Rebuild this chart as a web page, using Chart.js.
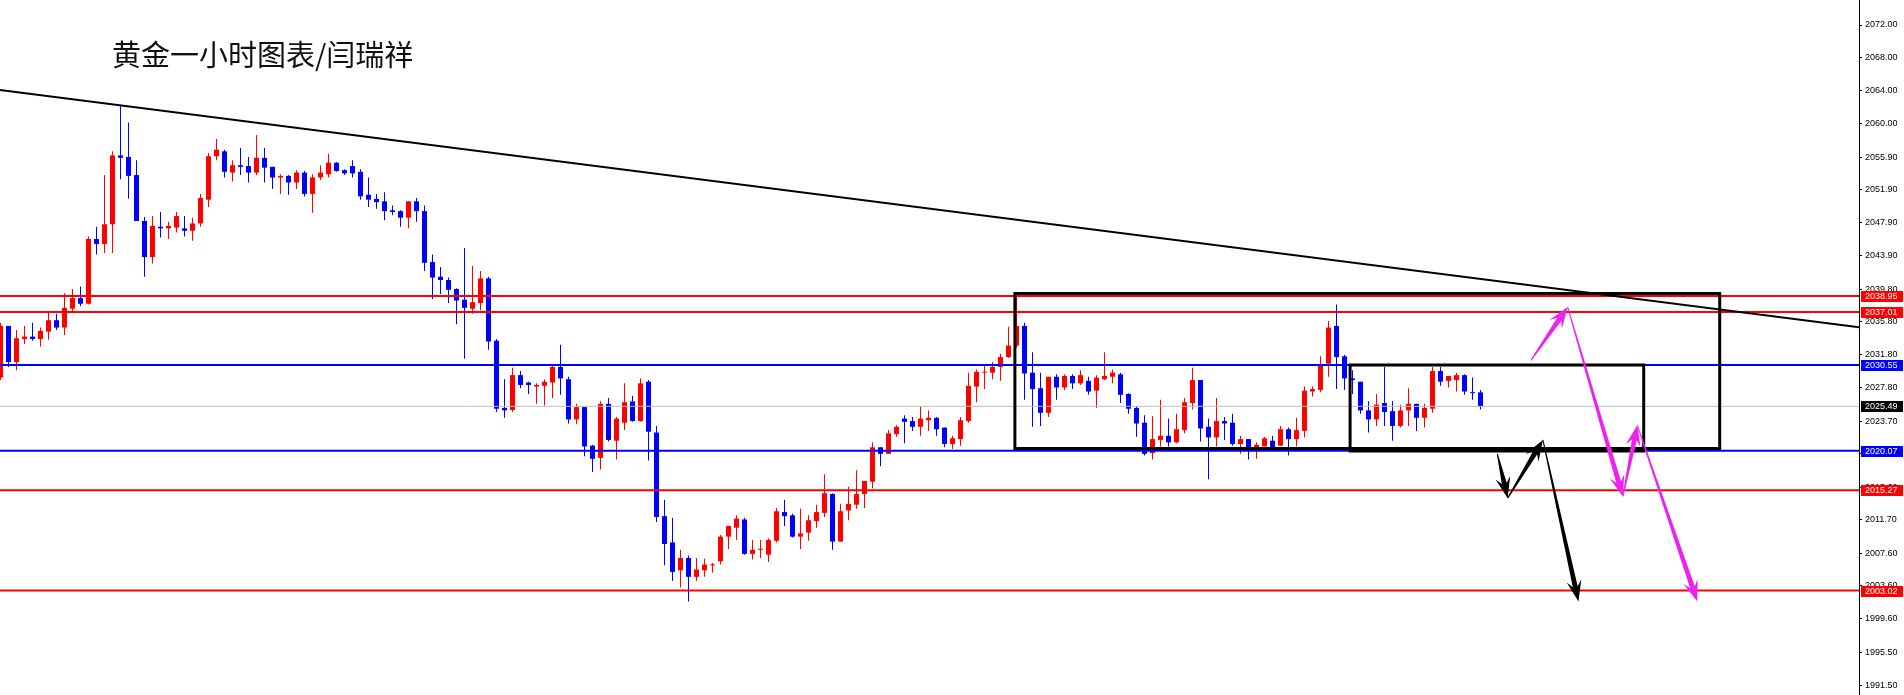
<!DOCTYPE html>
<html>
<head>
<meta charset="utf-8">
<script src="https://cdn.jsdelivr.net/npm/chart.js@4.4.0/dist/chart.umd.min.js"></script>
<style>
html, body { margin: 0; padding: 0; background: #fff; overflow: hidden; }
#wrap { width: 1904px; height: 695px; }
</style>
</head>
<body>
<div id="wrap"><canvas id="c" width="1904" height="695"></canvas></div>
<script>
// --- datos de velas (1 hora, oro) ---
const opens = [
  2029.0, 2035.3, 2030.9, 2033.7, 2034.0, 2033.7, 2034.6, 2036.0, 2035.1, 2037.4,
  2038.7, 2038.0, 2045.9, 2045.3, 2047.7, 2056.1, 2055.9, 2053.7, 2048.1, 2043.7,
  2047.4, 2047.2, 2047.3, 2047.2, 2046.9, 2047.8, 2050.7, 2056.0, 2056.6, 2054.0,
  2054.9, 2054.8, 2054.0, 2055.8, 2054.7, 2053.4, 2053.6, 2052.8, 2054.0, 2051.4,
  2053.4, 2053.8, 2055.2, 2054.3, 2054.8, 2054.1, 2051.3, 2050.8, 2050.5, 2049.4,
  2049.3, 2048.5, 2050.5, 2049.3, 2043.1, 2041.3, 2040.9, 2039.8, 2038.5, 2037.4,
  2038.1, 2041.1, 2033.5, 2025.3, 2025.05, 2029.3, 2028.4, 2027.9, 2028.0, 2028.4,
  2030.3, 2028.8, 2023.9, 2025.4, 2020.7, 2019.2, 2025.8, 2021.3, 2023.5, 2026.1,
  2023.7, 2028.5, 2022.3, 2012.1, 2008.9, 2005.5, 2007.0, 2004.7, 2005.5, 2006.1,
  2006.6, 2009.6, 2010.7, 2011.7, 2007.5, 2008.0, 2007.4, 2009.1, 2012.6, 2012.2,
  2009.6, 2010.1, 2011.5, 2012.5, 2014.8, 2009.0, 2012.8, 2013.5, 2014.8, 2016.3,
  2020.5, 2019.7, 2022.1, 2024.0, 2023.7, 2023.0, 2023.8, 2024.1, 2022.9, 2020.9,
  2021.5, 2023.7, 2027.9, 2029.6, 2029.6, 2030.3, 2031.5, 2032.9, 2035.3, 2029.6,
  2027.7, 2024.7, 2029.1, 2027.8, 2029.2, 2028.3, 2028.6, 2027.4, 2028.8, 2029.1,
  2029.4, 2027.0, 2025.3, 2023.5, 2019.8, 2021.4, 2021.9, 2021.1, 2022.6, 2025.9,
  2028.7, 2023.0, 2021.7, 2023.7, 2023.5, 2020.9, 2021.5, 2020.4, 2020.6, 2021.3,
  2020.7, 2022.7, 2021.5, 2022.5, 2027.3, 2027.5, 2030.7, 2035.3, 2031.6, 2028.9,
  2028.5, 2025.0, 2023.9, 2025.9, 2024.9, 2023.1, 2025.0, 2025.8, 2024.1, 2025.2,
  2029.8, 2028.6, 2028.7, 2029.3, 2027.2, 2027.2
];
const highs = [
  2035.7, 2035.3, 2034.8, 2035.3, 2035.7, 2035.1, 2037.0, 2036.8, 2039.3, 2039.8,
  2040.1, 2046.2, 2047.4, 2053.7, 2056.6, 2062.2, 2060.1, 2055.5, 2048.6, 2048.7,
  2049.2, 2048.0, 2049.2, 2048.7, 2048.5, 2051.4, 2056.4, 2058.1, 2056.8, 2055.5,
  2057.0, 2055.9, 2058.6, 2057.0, 2054.7, 2053.8, 2053.7, 2054.3, 2054.2, 2053.8,
  2054.9, 2056.3, 2055.3, 2054.4, 2055.5, 2054.4, 2053.4, 2051.4, 2051.6, 2050.0,
  2049.4, 2050.5, 2050.9, 2050.0, 2044.0, 2042.5, 2041.2, 2039.9, 2044.8, 2042.6,
  2042.0, 2041.3, 2033.7, 2028.8, 2030.2, 2029.8, 2028.5, 2028.3, 2028.8, 2030.5,
  2033.0, 2029.1, 2025.8, 2025.4, 2020.8, 2026.1, 2026.5, 2024.2, 2028.3, 2026.8,
  2028.9, 2028.7, 2023.1, 2014.1, 2011.9, 2008.0, 2007.3, 2007.0, 2006.9, 2006.4,
  2009.8, 2010.9, 2012.2, 2011.9, 2009.2, 2009.2, 2009.4, 2013.1, 2014.1, 2012.4,
  2013.0, 2012.2, 2013.5, 2017.2, 2014.9, 2013.6, 2015.7, 2017.7, 2016.4, 2021.1,
  2020.5, 2022.6, 2023.2, 2024.4, 2024.2, 2025.5, 2025.0, 2024.2, 2022.9, 2021.9,
  2024.2, 2029.6, 2030.0, 2030.5, 2030.9, 2031.9, 2035.2, 2038.9, 2035.7, 2032.1,
  2029.6, 2029.1, 2029.4, 2029.4, 2029.4, 2029.9, 2029.1, 2029.3, 2032.1, 2030.0,
  2029.6, 2027.1, 2025.5, 2024.4, 2024.3, 2026.3, 2024.0, 2024.6, 2026.5, 2030.2,
  2028.7, 2024.0, 2026.5, 2024.2, 2024.6, 2021.9, 2021.5, 2021.1, 2021.8, 2021.9,
  2023.1, 2022.9, 2024.1, 2027.9, 2027.9, 2031.6, 2035.9, 2037.9, 2031.8, 2029.9,
  2028.5, 2026.1, 2027.0, 2030.3, 2026.1, 2025.7, 2027.7, 2025.8, 2025.8, 2030.3,
  2030.3, 2029.2, 2029.6, 2029.4, 2029.0, 2027.5
];
const lows = [
  2028.7, 2030.3, 2029.9, 2033.1, 2033.5, 2032.8, 2033.6, 2034.8, 2034.2, 2036.9,
  2037.7, 2037.9, 2044.0, 2044.2, 2044.2, 2053.2, 2050.8, 2048.1, 2041.3, 2042.9,
  2046.1, 2045.9, 2046.7, 2046.2, 2045.7, 2047.4, 2049.8, 2055.5, 2053.4, 2052.9,
  2053.7, 2052.8, 2053.7, 2052.8, 2052.0, 2051.4, 2051.3, 2052.0, 2051.1, 2049.1,
  2053.1, 2053.4, 2054.1, 2053.7, 2053.4, 2050.7, 2049.8, 2049.6, 2048.2, 2048.8,
  2047.4, 2047.2, 2048.0, 2042.0, 2038.6, 2039.2, 2038.1, 2035.5, 2031.3, 2036.8,
  2037.2, 2032.4, 2024.8, 2024.1, 2024.8, 2027.7, 2027.0, 2025.8, 2025.6, 2026.5,
  2026.9, 2023.4, 2023.3, 2019.4, 2017.5, 2017.8, 2021.2, 2019.0, 2022.6, 2023.6,
  2023.6, 2018.9, 2011.4, 2006.1, 2004.2, 2003.4, 2001.7, 2004.2, 2004.7, 2005.2,
  2006.2, 2008.1, 2009.2, 2007.4, 2006.8, 2007.0, 2006.5, 2008.9, 2010.9, 2009.5,
  2008.1, 2009.1, 2010.7, 2012.0, 2008.0, 2009.0, 2011.6, 2013.0, 2013.1, 2015.5,
  2018.2, 2019.7, 2021.8, 2021.0, 2022.5, 2021.9, 2022.5, 2021.9, 2020.5, 2020.3,
  2020.7, 2023.5, 2026.0, 2027.6, 2028.8, 2028.6, 2031.4, 2032.6, 2026.3, 2023.0,
  2023.1, 2024.2, 2026.3, 2027.5, 2027.6, 2028.1, 2026.9, 2025.3, 2028.7, 2028.3,
  2025.9, 2024.6, 2021.8, 2019.5, 2019.0, 2020.6, 2020.6, 2021.0, 2022.2, 2025.1,
  2021.2, 2016.6, 2020.6, 2021.4, 2020.7, 2019.7, 2019.0, 2019.1, 2020.6, 2020.5,
  2020.7, 2019.5, 2020.6, 2021.7, 2026.7, 2027.2, 2029.1, 2027.6, 2027.5, 2027.0,
  2024.6, 2022.3, 2023.1, 2023.1, 2021.3, 2022.9, 2023.1, 2022.5, 2022.9, 2024.7,
  2028.0, 2027.8, 2027.3, 2026.9, 2026.3, 2025.1
];
const closes = [
  2035.3, 2030.9, 2033.8, 2034.0, 2033.7, 2034.7, 2036.0, 2035.1, 2037.5, 2038.7,
  2038.0, 2045.9, 2045.3, 2047.7, 2056.1, 2055.8, 2053.6, 2048.1, 2043.7, 2047.5,
  2047.2, 2047.5, 2048.7, 2046.9, 2047.8, 2050.9, 2056.0, 2056.8, 2054.1, 2054.9,
  2054.7, 2054.0, 2055.8, 2054.6, 2053.4, 2053.6, 2052.8, 2054.0, 2051.4, 2053.4,
  2054.0, 2055.2, 2054.2, 2053.9, 2053.9, 2051.1, 2050.7, 2050.4, 2049.3, 2049.2,
  2048.5, 2050.5, 2049.3, 2043.0, 2041.2, 2040.9, 2039.7, 2038.4, 2037.5, 2038.2,
  2041.1, 2033.4, 2025.2, 2025.0, 2029.3, 2028.1, 2028.1, 2028.1, 2028.5, 2030.3,
  2028.9, 2023.9, 2025.4, 2020.6, 2019.1, 2025.8, 2021.4, 2024.0, 2026.0, 2023.7,
  2028.3, 2022.4, 2012.0, 2008.7, 2005.3, 2007.0, 2004.7, 2005.6, 2006.2, 2006.2,
  2009.6, 2010.9, 2011.8, 2007.5, 2008.0, 2008.1, 2009.2, 2012.7, 2012.1, 2009.6,
  2010.0, 2011.6, 2012.6, 2014.9, 2009.0, 2012.7, 2013.6, 2014.8, 2016.4, 2020.5,
  2019.7, 2022.2, 2023.0, 2023.6, 2023.0, 2024.0, 2024.1, 2022.7, 2020.9, 2021.6,
  2023.8, 2028.0, 2029.7, 2029.7, 2030.3, 2031.5, 2032.9, 2035.3, 2029.5, 2027.6,
  2024.7, 2029.1, 2027.8, 2029.2, 2028.3, 2029.3, 2027.3, 2029.0, 2029.2, 2029.6,
  2026.9, 2025.2, 2023.4, 2019.7, 2021.5, 2021.9, 2021.1, 2022.7, 2026.0, 2028.7,
  2022.8, 2021.7, 2023.7, 2023.4, 2020.9, 2021.5, 2020.4, 2020.8, 2021.6, 2020.5,
  2022.7, 2021.5, 2022.6, 2027.4, 2027.6, 2030.6, 2035.1, 2031.5, 2028.9, 2028.7,
  2025.0, 2023.9, 2025.7, 2024.8, 2023.1, 2025.0, 2025.8, 2024.1, 2025.3, 2029.8,
  2028.5, 2029.2, 2029.3, 2027.3, 2027.1, 2025.49
];

// --- niveles horizontales y precio actual ---
const levels = [2038.95, 2037.01, 2030.55, 2020.07, 2015.27, 2003.02];
const currentPrice = 2025.49;

// --- ticks del eje de precios (como aparecen en el gráfico) ---
const yTicks = [2072.00, 2068.00, 2064.00, 2060.00, 2055.90, 2051.90, 2047.90, 2043.90, 2039.80,
                2035.80, 2031.80, 2027.80, 2023.70, 2019.70, 2015.60, 2011.70, 2007.60, 2003.60,
                1999.60, 1995.50, 1991.50];

// --- línea de tendencia (índice de vela, precio) ---
const trendX = [-0.1, 232.4];
const trendY = [2064.08, 2035.14];

// --- rectángulos: [índice inicio, índice fin, precio arriba, precio abajo] ---
const bigBox = [126.8, 214.9, 2039.26, 2020.35];
const smallBox = [168.7, 205.4, 2030.55, 2020.05];

// --- rutas de flechas (índice, precio) ---
const blackPath = [[187.1, 2019.7], [188.4, 2014.3], [192.8, 2021.4], [197.25, 2001.7]];
const magentaPath = [[191.3, 2031.1], [195.9, 2037.6], [202.8, 2014.5], [204.6, 2023.2], [212.1, 2001.7]];

const title = '黄金一小时图表/闫瑞祥';

// --- rango de ejes ---
const xMin = -0.0625, xMax = 232.3125;
const yMin = 1990.29, yMax = 2075.05;

// --- estilos ---
const RED = '#FF0000', BLUE = '#0000FF', MAGENTA = '#EE22EE';
const levelColors = [RED, RED, BLUE, BLUE, RED, RED];

const idx = opens.map((_, i) => i);
const candleColors = idx.map(i => closes[i] >= opens[i] ? RED : BLUE);

function rectPoints(b) {
    return [
        {x: b[0], y: b[2]}, {x: b[1], y: b[2]}, {x: b[1], y: b[3]},
        {x: b[0], y: b[3]}, {x: b[0], y: b[2]}
    ];
}

const datasets = [];
// rectángulos y tendencia arriba de todo
datasets.push({ type: 'line', data: rectPoints(bigBox), borderColor: '#000', borderWidth: 3,
    borderJoinStyle: 'miter', borderCapStyle: 'square', pointRadius: 0, tension: 0, order: 1 });
datasets.push({ type: 'line', data: rectPoints(smallBox), borderColor: '#000', borderWidth: 3,
    borderJoinStyle: 'miter', borderCapStyle: 'square', pointRadius: 0, tension: 0, order: 1 });
datasets.push({ type: 'line', data: trendX.map((x, k) => ({x, y: trendY[k]})), borderColor: '#000',
    borderWidth: 2, pointRadius: 0, order: 2 });
levels.forEach((p, k) => {
    datasets.push({ type: 'line', data: [{x: xMin - 1, y: p}, {x: xMax + 1, y: p}],
        borderColor: levelColors[k], borderWidth: 2, pointRadius: 0, order: 3 });
});
datasets.push({ type: 'line', data: [{x: xMin - 1, y: currentPrice}, {x: xMax + 1, y: currentPrice}],
    borderColor: '#C0C0C0', borderWidth: 1, pointRadius: 0, order: 4 });
// velas: cuerpo y mecha
datasets.push({ type: 'bar', data: idx.map(i => ({x: i, y: [opens[i], closes[i]]})),
    backgroundColor: candleColors, grouped: false, maxBarThickness: 5, minBarLength: 1,
    inflateAmount: 0, borderWidth: 0, order: 5 });
datasets.push({ type: 'bar', data: idx.map(i => ({x: i, y: [lows[i], highs[i]]})),
    backgroundColor: candleColors, grouped: false, maxBarThickness: 1, minBarLength: 1,
    inflateAmount: 0, borderWidth: 0, order: 6 });

function drawArrow(ctx, x0, y0, x1, y1, color) {
    const dx = x1 - x0, dy = y1 - y0;
    const len = Math.hypot(dx, dy);
    const ux = dx / len, uy = dy / len, nx = -uy, ny = ux;
    const headLen = Math.min(21, len * 0.5), headW = 7.5, neckW = 2.5, tailW = 0.5;
    const bx = x1 - ux * headLen, by = y1 - uy * headLen;
    const kx = x1 - ux * headLen * 0.72, ky = y1 - uy * headLen * 0.72;
    ctx.beginPath();
    ctx.moveTo(x0 + nx * tailW, y0 + ny * tailW);
    ctx.lineTo(kx + nx * neckW, ky + ny * neckW);
    ctx.lineTo(bx + nx * headW, by + ny * headW);
    ctx.lineTo(x1, y1);
    ctx.lineTo(bx - nx * headW, by - ny * headW);
    ctx.lineTo(kx - nx * neckW, ky - ny * neckW);
    ctx.lineTo(x0 - nx * tailW, y0 - ny * tailW);
    ctx.closePath();
    ctx.fillStyle = color;
    ctx.fill();
}

const overlayPlugin = {
    id: 'overlay',
    beforeDraw(chart) {
        const ctx = chart.ctx;
        ctx.save();
        ctx.fillStyle = '#fff';
        ctx.fillRect(0, 0, chart.width, chart.height);
        ctx.restore();
    },
    afterDatasetsDraw(chart) {
        const ctx = chart.ctx, xs = chart.scales.x, ys = chart.scales.y;
        ctx.save();
        [[blackPath, '#000'], [magentaPath, MAGENTA]].forEach(([path, color]) => {
            for (let k = 0; k < path.length - 1; k++) {
                drawArrow(ctx,
                    xs.getPixelForValue(path[k][0]), ys.getPixelForValue(path[k][1]),
                    xs.getPixelForValue(path[k + 1][0]), ys.getPixelForValue(path[k + 1][1]), color);
            }
        });
        ctx.restore();
    },
    afterDraw(chart) {
        const ctx = chart.ctx, ys = chart.scales.y;
        const left = chart.chartArea.right + 2;
        ctx.save();
        // etiquetas de niveles sobre el eje
        const tags = levels.map((p, k) => [p, levelColors[k]]).concat([[currentPrice, '#000']]);
        ctx.font = '9px "Liberation Sans", Arial, sans-serif';
        ctx.textBaseline = 'middle';
        ctx.textAlign = 'left';
        tags.forEach(([p, color]) => {
            const y = Math.round(ys.getPixelForValue(p));
            ctx.fillStyle = color;
            ctx.fillRect(left, y - 5, 42, 11);
            ctx.fillStyle = '#fff';
            ctx.fillText(p.toFixed(2), left + 4, y + 0.5);
        });
        // título
        ctx.fillStyle = '#111';
        ctx.textBaseline = 'alphabetic';
        ctx.font = '29px "Noto Sans CJK SC", sans-serif';
        ctx.fillText(title, 112, 66);
        ctx.restore();
    }
};

new Chart(document.getElementById('c'), {
    type: 'bar',
    data: { datasets },
    options: {
        responsive: false,
        animation: false,
        devicePixelRatio: 1,
        layout: { padding: 0 },
        plugins: { legend: { display: false }, tooltip: { enabled: false } },
        scales: {
            x: { type: 'linear', display: false, min: xMin, max: xMax, offset: false },
            y: {
                type: 'linear', position: 'right', min: yMin, max: yMax,
                afterBuildTicks: s => { s.ticks = yTicks.map(v => ({ value: v })); },
                afterFit: s => { s.width = 45; s.paddingTop = 0; s.paddingBottom = 0; },
                ticks: {
                    autoSkip: false, padding: 3, color: '#000',
                    font: { family: '"Liberation Sans", Arial, sans-serif', size: 9 },
                    callback: v => Number(v).toFixed(2)
                },
                grid: { drawOnChartArea: false, drawTicks: true, tickLength: 3, color: '#000' },
                border: { display: true, color: '#000', width: 1 }
            }
        }
    },
    plugins: [overlayPlugin]
});
</script>
</body>
</html>
